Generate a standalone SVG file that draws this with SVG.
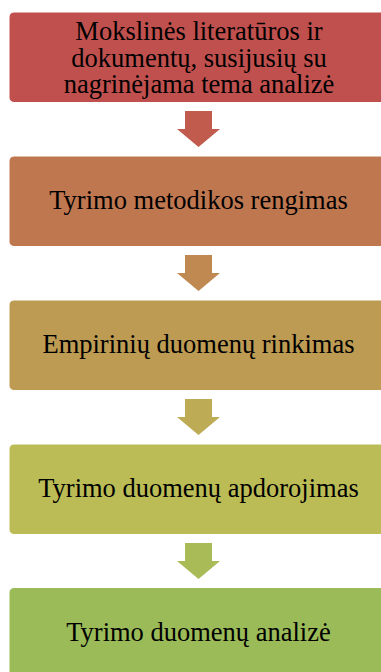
<svg xmlns="http://www.w3.org/2000/svg" width="381" height="672" viewBox="0 0 381 672">
<style>
.box{stroke:#ffffff;stroke-width:1}
.t{font-family:"Liberation Serif","Times New Roman",serif;font-size:26.5px;fill:#000000;text-anchor:middle}
</style>
<rect width="381" height="672" fill="#ffffff"/>
<g id="connectors">
<polygon points="185,111 212,111 212,129 220,129 198.5,147 177,129 185,129" fill="#C05B4E"/>
<polygon points="185,255 212,255 212,273 220,273 198.5,291 177,273 185,273" fill="#BF8951"/>
<polygon points="185,399 212,399 212,417 220,417 198.5,435 177,417 185,417" fill="#BDAC55"/>
<polygon points="185,543 212,543 212,561 220,561 198.5,579 177,561 185,561" fill="#A9BB57"/>
</g>
<g id="node1">
<rect class="box" x="9" y="12" width="380" height="90.5" rx="5" fill="#C0504D"/>
<text class="t"><tspan x="199" y="39.5">Mokslinės literatūros ir</tspan><tspan x="199" y="66.5">dokumentų, susijusių su</tspan><tspan x="199" y="93">nagrinėjama tema analizė</tspan></text>
</g>
<g id="node2">
<rect class="box" x="9" y="156" width="380" height="90.5" rx="5" fill="#BF7750"/>
<text class="t" x="198.5" y="209">Tyrimo metodikos rengimas</text>
</g>
<g id="node3">
<rect class="box" x="9" y="300" width="380" height="90.5" rx="5" fill="#BD9B53"/>
<text class="t" x="198.5" y="353">Empirinių duomenų rinkimas</text>
</g>
<g id="node4">
<rect class="box" x="9" y="444" width="380" height="90.5" rx="5" fill="#BCBC56"/>
<text class="t" x="198.5" y="497">Tyrimo duomenų apdorojimas</text>
</g>
<g id="node5">
<rect class="box" x="9" y="587.5" width="380" height="90.5" rx="5" fill="#9BBB59"/>
<text class="t" x="198.5" y="641">Tyrimo duomenų analizė</text>
</g>
</svg>
